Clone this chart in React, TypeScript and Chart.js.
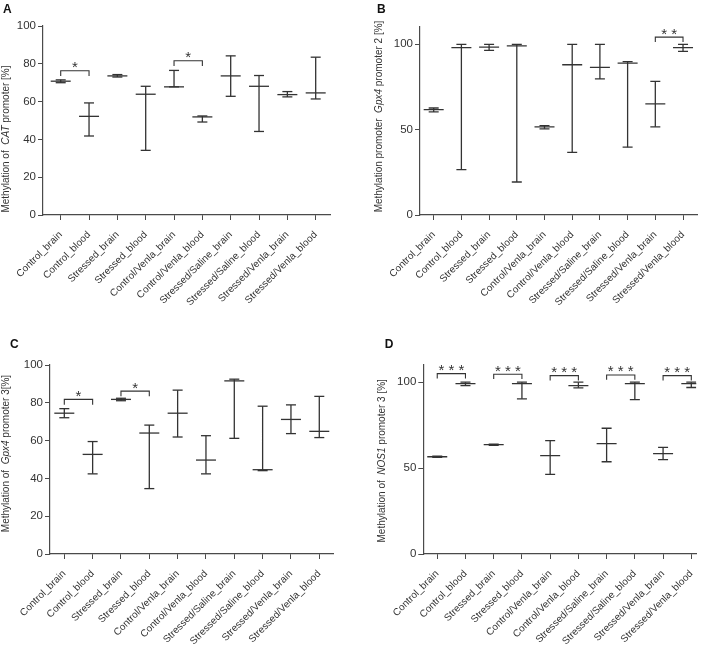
import React, { useEffect, useRef } from 'react';
import { Chart, registerables } from 'chart.js';
Chart.register(...registerables);

const FONT = "'Liberation Sans', Arial, Helvetica, sans-serif";
const INK = '#333333';
const AXIS = '#4a4a4a';

const categories = [
  'Control_brain', 'Control_blood', 'Stressed_brain', 'Stressed_blood',
  'Control/Venla_brain', 'Control/Venla_blood', 'Stressed/Saline_brain',
  'Stressed/Saline_blood', 'Stressed/Venla_brain', 'Stressed/Venla_blood',
];

// Panel A: CAT promoter
const aMean = [70.8, 52.2, 73.6, 63.9, 67.8, 51.9, 73.6, 68.1, 63.7, 64.6];
const aLow = [70.0, 41.8, 73.0, 34.2, 67.8, 49.2, 62.8, 44.2, 62.5, 61.4];
const aHigh = [71.5, 59.3, 74.3, 68.1, 76.5, 52.4, 84.2, 73.8, 65.3, 83.5];
const aTicks = [0, 20, 40, 60, 80, 100];
const aPairs = [[0, 1], [4, 5]];
const aBracketTop = [76.3, 81.6];
const aBracketLeg = [73.5, 78.8];
const aStars = ['*', '*'];

// Panel B: Gpx4 promoter 2
const bMean = [61.7, 97.9, 98.2, 99.0, 51.6, 87.9, 86.4, 88.9, 65.0, 97.9];
const bLow = [60.3, 26.5, 96.3, 19.3, 50.4, 36.6, 79.6, 39.7, 51.6, 95.7];
const bHigh = [62.6, 99.8, 99.8, 99.8, 52.3, 99.8, 99.8, 89.7, 78.2, 99.8];
const bTicks = [0, 50, 100];
const bPairs = [[8, 9]];
const bBracketTop = [104.1];
const bBracketLeg = [101.2];
const bStars = ['* *'];

// Panel C: Gpx4 promoter 3
const cMean = [74.5, 52.7, 81.8, 64.0, 74.5, 49.7, 91.6, 44.6, 71.2, 64.9];
const cLow = [72.1, 42.4, 81.1, 34.6, 61.9, 42.4, 61.2, 44.1, 63.7, 61.6];
const cHigh = [76.9, 59.5, 82.4, 68.2, 86.7, 62.6, 92.5, 78.2, 78.9, 83.4];
const cTicks = [0, 20, 40, 60, 80, 100];
const cPairs = [[0, 1], [2, 3]];
const cBracketTop = [81.8, 86.2];
const cBracketLeg = [79.0, 83.4];
const cStars = ['*', '*'];

// Panel D: NOS1 promoter 3
const dMean = [56.6, 99.2, 63.6, 99.2, 57.2, 98.0, 64.2, 99.2, 58.4, 99.2];
const dLow = [56.2, 98.0, 63.3, 90.3, 46.3, 96.7, 53.7, 89.9, 54.9, 96.9];
const dHigh = [57.0, 100.0, 63.9, 100.0, 66.0, 100.0, 73.2, 100.0, 62.1, 100.0];
const dTicks = [0, 50, 100];
const dPairs = [[0, 1], [2, 3], [4, 5], [6, 7], [8, 9]];
const dBracketTop = [105.0, 104.6, 103.8, 104.2, 103.8];
const dBracketLeg = [102.1, 101.8, 101.0, 101.4, 101.0];
const dStars = ['* * *', '* * *', '* * *', '* * *', '* * *'];

type PanelDef = {
  pos: { left: number; top: number; width: number; height: number };
  area: { l: number; t: number; r: number; b: number };
  xMin: number; xMax: number; yMax: number; yTicks: number[];
  mean: number[]; low: number[]; high: number[];
  pairs: number[][]; bTop: number[]; bLeg: number[]; stars: string[];
  title: string[]; titleX: number; titleY: number;
  letter: string; letterX: number; letterY: number;
};

const panels: PanelDef[] = [
  {
    pos: { left: 0, top: 0, width: 354, height: 323 },
    area: { l: 43, t: 26, r: 330, b: 215 },
    xMin: -0.625, xMax: 9.505, yMax: 100, yTicks: aTicks,
    mean: aMean, low: aLow, high: aHigh,
    pairs: aPairs, bTop: aBracketTop, bLeg: aBracketLeg, stars: aStars,
    title: ['Methylation of  ', 'CAT', ' promoter [%]'], titleX: 6, titleY: 139,
    letter: 'A', letterX: 3, letterY: 13,
  },
  {
    pos: { left: 354, top: 0, width: 355, height: 323 },
    area: { l: 66, t: 27, r: 350, b: 215 },
    xMin: -0.494, xMax: 9.53, yMax: 110, yTicks: bTicks,
    mean: bMean, low: bLow, high: bHigh,
    pairs: bPairs, bTop: bBracketTop, bLeg: bBracketLeg, stars: bStars,
    title: ['Methylation promoter  ', 'Gpx4', ' promoter 2 [%]'], titleX: 25, titleY: 116.5,
    letter: 'B', letterX: 23, letterY: 12.7,
  },
  {
    pos: { left: 0, top: 323, width: 354, height: 323 },
    area: { l: 50, t: 42, r: 333, b: 231 },
    xMin: -0.505, xMax: 9.484, yMax: 100, yTicks: cTicks,
    mean: cMean, low: cLow, high: cHigh,
    pairs: cPairs, bTop: cBracketTop, bLeg: cBracketLeg, stars: cStars,
    title: ['Methylation of  ', 'Gpx4', ' promoter 3[%]'], titleX: 6, titleY: 130.5,
    letter: 'C', letterX: 10, letterY: 25.3,
  },
  {
    pos: { left: 354, top: 323, width: 355, height: 323 },
    area: { l: 69.3, t: 42, r: 343.3, b: 231 },
    xMin: -0.494, xMax: 9.176, yMax: 110, yTicks: dTicks,
    mean: dMean, low: dLow, high: dHigh,
    pairs: dPairs, bTop: dBracketTop, bLeg: dBracketLeg, stars: dStars,
    title: ['Methylation of  ', 'NOS1', ' promoter 3 [%]'], titleX: 28.3, titleY: 137.8,
    letter: 'D', letterX: 30.7, letterY: 25.3,
  },
];

function makeConfig(p: PanelDef): any {
  const errData: any[] = [];
  p.low.forEach((lo, i) => {
    errData.push({ x: i, y: lo }, { x: i, y: p.high[i] }, { x: i, y: null });
  });
  const capData: any[] = [];
  p.low.forEach((lo, i) => capData.push({ x: i, y: lo }, { x: i, y: p.high[i] }));
  const meanData = p.mean.map((m, i) => ({ x: i, y: m }));
  const brData: any[] = [];
  p.pairs.forEach((pr, k) => {
    brData.push(
      { x: pr[0], y: p.bLeg[k] }, { x: pr[0], y: p.bTop[k] },
      { x: pr[1], y: p.bTop[k] }, { x: pr[1], y: p.bLeg[k] }, { x: pr[1], y: null },
    );
  });

  const overlay = {
    id: 'overlay' + p.letter,
    afterDatasetsDraw(chart: any) {
      const ctx = chart.ctx;
      const xs = chart.scales.x;
      const ys = chart.scales.y;
      ctx.save();
      ctx.fillStyle = INK;
      ctx.font = `15px ${FONT}`;
      ctx.textAlign = 'center';
      ctx.textBaseline = 'alphabetic';
      p.pairs.forEach((pr, k) => {
        const cx = (xs.getPixelForValue(pr[0]) + xs.getPixelForValue(pr[1])) / 2;
        const ty = ys.getPixelForValue(p.bTop[k]);
        ctx.fillText(p.stars[k], cx, ty + 1.5);
      });
      // y-axis title with italic gene name
      const fonts = [`10px ${FONT}`, `italic 10px ${FONT}`, `10px ${FONT}`];
      let total = 0;
      const widths = p.title.map((s, i) => {
        ctx.font = fonts[i];
        const w = ctx.measureText(s).width;
        total += w;
        return w;
      });
      ctx.translate(p.titleX, p.titleY);
      ctx.rotate(-Math.PI / 2);
      ctx.textAlign = 'left';
      ctx.textBaseline = 'middle';
      let xx = -total / 2;
      p.title.forEach((s, i) => {
        ctx.font = fonts[i];
        ctx.fillText(s, xx, 0);
        xx += widths[i];
      });
      ctx.setTransform(1, 0, 0, 1, 0, 0);
      ctx.font = `bold 12px ${FONT}`;
      ctx.textAlign = 'left';
      ctx.textBaseline = 'alphabetic';
      ctx.fillStyle = '#111';
      ctx.fillText(p.letter, p.letterX, p.letterY);
      ctx.restore();
    },
  };

  const W = p.pos.width;
  const H = p.pos.height;
  return {
    type: 'scatter',
    data: {
      datasets: [
        {
          data: errData, showLine: true, spanGaps: false, borderColor: INK,
          borderWidth: 1.3, pointRadius: 0, pointHoverRadius: 0,
        },
        {
          data: capData, showLine: false, pointStyle: 'line', pointRadius: 5,
          pointHoverRadius: 5, pointBorderColor: INK, pointBorderWidth: 1.3,
          pointBackgroundColor: INK,
        },
        {
          data: meanData, showLine: false, pointStyle: 'line', pointRadius: 10,
          pointHoverRadius: 10, pointBorderColor: INK, pointBorderWidth: 1.3,
          pointBackgroundColor: INK,
        },
        {
          data: brData, showLine: true, spanGaps: false, borderColor: INK,
          borderWidth: 1.1, pointRadius: 0, pointHoverRadius: 0,
        },
      ],
    },
    options: {
      animation: false,
      responsive: false,
      events: [],
      layout: { padding: { left: 0, top: p.area.t, right: W - p.area.r, bottom: 0 } },
      plugins: { legend: { display: false }, tooltip: { enabled: false }, title: { display: false } },
      scales: {
        x: {
          type: 'linear', min: p.xMin, max: p.xMax, offset: false,
          afterBuildTicks: (s: any) => { s.ticks = categories.map((_, i) => ({ value: i })); },
          afterFit: (s: any) => { s.height = H - p.area.b; },
          grid: { drawOnChartArea: false, drawTicks: true, tickLength: 5, color: AXIS, lineWidth: 1, offset: false },
          border: { display: true, color: AXIS, width: 1.2 },
          ticks: {
            autoSkip: false, maxRotation: 45, minRotation: 45, padding: 9,
            color: INK, font: { family: FONT, size: 10 },
            callback: (v: any) => categories[v] ?? '',
          },
        },
        y: {
          type: 'linear', min: 0, max: p.yMax,
          afterBuildTicks: (s: any) => { s.ticks = p.yTicks.map((v) => ({ value: v })); },
          afterFit: (s: any) => { s.width = p.area.l; },
          grid: { drawOnChartArea: false, drawTicks: true, tickLength: 5, color: AXIS, lineWidth: 1 },
          border: { display: true, color: AXIS, width: 1.2 },
          ticks: { padding: 2, color: INK, font: { family: FONT, size: 11.5 } },
        },
      },
    },
    plugins: [overlay],
  };
}

function Panel({ p }: { p: PanelDef }) {
  const ref = useRef<HTMLCanvasElement | null>(null);
  useEffect(() => {
    if (!ref.current) return;
    const chart = new Chart(ref.current, makeConfig(p));
    return () => chart.destroy();
  }, [p]);
  return (
    <div style={{ position: 'absolute', left: p.pos.left, top: p.pos.top, width: p.pos.width, height: p.pos.height }}>
      <canvas ref={ref} width={p.pos.width} height={p.pos.height} style={{ width: p.pos.width, height: p.pos.height, display: 'block' }} />
    </div>
  );
}

export default function App() {
  return (
    <div style={{ position: 'fixed', left: 0, top: 0, width: 709, height: 646, background: '#fff', overflow: 'hidden' }}>
      {panels.map((p) => <Panel key={p.letter} p={p} />)}
    </div>
  );
}
